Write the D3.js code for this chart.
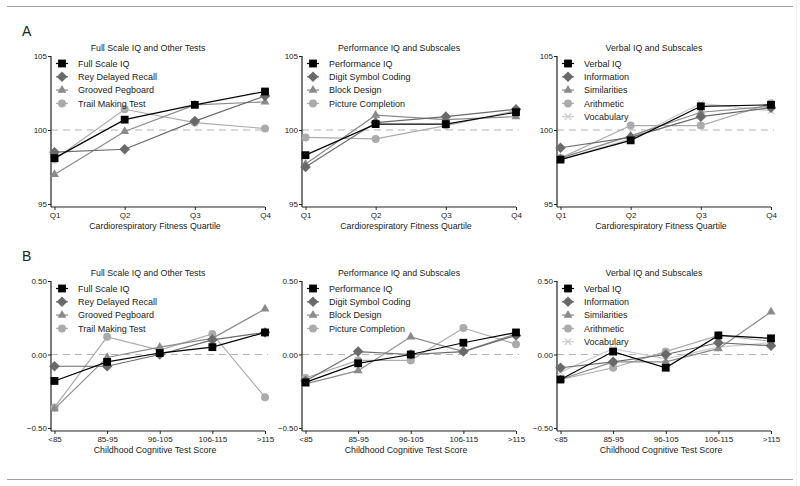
<!DOCTYPE html>
<html>
<head>
<meta charset="utf-8">
<script src="https://cdn.jsdelivr.net/npm/d3@7"></script>
<style>
  body { margin: 0; background: #fff; }
  svg text { font-family: "Liberation Sans", Arial, sans-serif; fill: #222; }
</style>
</head>
<body>
<div id="chart"></div>
<script>
// categories
var quartiles = ["Q1", "Q2", "Q3", "Q4"];
var childScores = ["<85", "85-95", "96-105", "106-115", ">115"];

// panel A values (mean IQ by fitness quartile)
var a1Names = ["Full Scale IQ", "Rey Delayed Recall", "Grooved Pegboard", "Trail Making Test"];
var a1FullScale = [98.1, 100.7, 101.7, 102.6];
var a1Rey = [98.5, 98.7, 100.6, 102.3];
var a1Grooved = [97.0, 99.9, 101.7, 101.9];
var a1Trail = [98.0, 101.4, 100.5, 100.1];

var a2Names = ["Performance IQ", "Digit Symbol Coding", "Block Design", "Picture Completion"];
var a2Perf = [98.3, 100.4, 100.4, 101.2];
var a2Digit = [97.5, 100.5, 100.9, 101.4];
var a2Block = [97.7, 101.0, 100.7, 100.9];
var a2Picture = [99.5, 99.4, 100.3, 101.3];

var a3Names = ["Verbal IQ", "Information", "Similarities", "Arithmetic", "Vocabulary"];
var a3Verbal = [98.0, 99.3, 101.6, 101.7];
var a3Info = [98.8, 99.5, 100.9, 101.5];
var a3Simil = [98.1, 99.6, 101.2, 101.6];
var a3Arith = [98.1, 100.3, 100.3, 101.8];
var a3Vocab = [98.0, 99.4, 101.8, 101.3];

// panel B values (z-scores by childhood test score)
var b1FullScale = [-0.18, -0.05, 0.01, 0.05, 0.15];
var b1Rey = [-0.08, -0.08, 0.00, 0.10, 0.15];
var b1Grooved = [-0.37, -0.02, 0.05, 0.11, 0.31];
var b1Trail = [-0.36, 0.12, 0.03, 0.14, -0.29];

var b2Perf = [-0.19, -0.06, 0.00, 0.08, 0.15];
var b2Digit = [-0.18, 0.02, 0.00, 0.02, 0.13];
var b2Block = [-0.20, -0.11, 0.12, 0.02, 0.14];
var b2Picture = [-0.16, -0.04, -0.04, 0.18, 0.07];

var b3Verbal = [-0.17, 0.02, -0.09, 0.13, 0.11];
var b3Info = [-0.09, -0.05, 0.00, 0.08, 0.06];
var b3Simil = [-0.17, -0.05, -0.05, 0.04, 0.29];
var b3Arith = [-0.17, -0.09, 0.02, 0.13, 0.09];
var b3Vocab = [-0.12, 0.04, -0.03, 0.05, 0.08];

var aTicks = [95, 100, 105];
var bTicks = [-0.5, 0, 0.5];

var styles = [
  { color: "#000000", shape: "square" },
  { color: "#6a6a6a", shape: "diamond" },
  { color: "#8a8a8a", shape: "triangle" },
  { color: "#ababab", shape: "circle" },
  { color: "#cdcdcd", shape: "cross" }
];

var panels = [
  { row: 0, col: 0, title: "Full Scale IQ and Other Tests", names: a1Names,
    series: [a1FullScale, a1Rey, a1Grooved, a1Trail] },
  { row: 0, col: 1, title: "Performance IQ and Subscales", names: a2Names,
    series: [a2Perf, a2Digit, a2Block, a2Picture] },
  { row: 0, col: 2, title: "Verbal IQ and Subscales", names: a3Names,
    series: [a3Verbal, a3Info, a3Simil, a3Arith, a3Vocab] },
  { row: 1, col: 0, title: "Full Scale IQ and Other Tests", names: a1Names,
    series: [b1FullScale, b1Rey, b1Grooved, b1Trail] },
  { row: 1, col: 1, title: "Performance IQ and Subscales", names: a2Names,
    series: [b2Perf, b2Digit, b2Block, b2Picture] },
  { row: 1, col: 2, title: "Verbal IQ and Subscales", names: a3Names,
    series: [b3Verbal, b3Info, b3Simil, b3Arith, b3Vocab] }
];

var rows = [
  { letter: "A", cats: quartiles, ticks: aTicks, ref: 100, fmt: d3.format("d"),
    top: 56, bottom: 204, axisY: 207, xTitle: "Cardiorespiratory Fitness Quartile" },
  { letter: "B", cats: childScores, ticks: bTicks, ref: 0, fmt: d3.format(".2f"),
    top: 281, bottom: 428, axisY: 431, xTitle: "Childhood Cognitive Test Score" }
];
var colX = [51, 302, 557];

var svg = d3.select("#chart").append("svg")
  .attr("width", 800).attr("height", 486);

// outer frame
svg.append("line").attr("x1", 7).attr("x2", 793).attr("y1", 6.5).attr("y2", 6.5)
  .attr("stroke", "#a0a0a0").attr("stroke-width", 1);
svg.append("line").attr("x1", 7).attr("x2", 793).attr("y1", 479.5).attr("y2", 479.5)
  .attr("stroke", "#a0a0a0").attr("stroke-width", 1);
svg.append("line").attr("x1", 796.5).attr("x2", 796.5).attr("y1", 0).attr("y2", 486)
  .attr("stroke", "#f0f0f0").attr("stroke-width", 1);

rows.forEach(function(r, i) {
  svg.append("text").attr("x", 22).attr("y", i == 0 ? 36 : 261)
    .style("font-size", "14px").text(r.letter);
});

function drawMarker(g, shape, color, cx, cy) {
  if (shape == "square") {
    g.append("rect").attr("x", cx - 3.9).attr("y", cy - 3.9)
      .attr("width", 7.8).attr("height", 7.8).attr("fill", color);
  } else if (shape == "diamond") {
    g.append("path").attr("d", d3.symbol(d3.symbolDiamond2, 72)())
      .attr("transform", "translate(" + cx + "," + cy + ")").attr("fill", color);
  } else if (shape == "triangle") {
    g.append("path").attr("d", d3.symbol(d3.symbolTriangle, 34)())
      .attr("transform", "translate(" + cx + "," + cy + ")").attr("fill", color);
  } else if (shape == "circle") {
    g.append("circle").attr("cx", cx).attr("cy", cy).attr("r", 4).attr("fill", color);
  } else {
    g.append("path").attr("d", d3.symbol(d3.symbolX, 30)())
      .attr("transform", "translate(" + cx + "," + cy + ")")
      .attr("stroke", color).attr("stroke-width", 1.2).attr("fill", "none");
  }
}

panels.forEach(function(p) {
  var r = rows[p.row];
  var ax = colX[p.col];
  var g = svg.append("g");

  var x = d3.scalePoint().domain(r.cats).range([ax + 3.5, ax + 214]);
  var y = d3.scaleLinear().domain([r.ticks[0], r.ticks[2]]).range([r.bottom, r.top]);

  // reference dashed line
  g.append("line")
    .attr("x1", ax).attr("x2", ax + 217)
    .attr("y1", y(r.ref)).attr("y2", y(r.ref))
    .attr("stroke", "#b4b4b4").attr("stroke-width", 1.2)
    .attr("stroke-dasharray", "7,5");

  // y axis
  var yAxis = g.append("g").attr("transform", "translate(" + ax + ",0)")
    .call(d3.axisLeft(y).tickValues(r.ticks).tickFormat(r.fmt).tickSize(3).tickSizeOuter(0));
  yAxis.select(".domain").attr("d", "M0," + r.top + "V" + r.axisY);

  // x axis
  var xAxis = g.append("g").attr("transform", "translate(0," + r.axisY + ")")
    .call(d3.axisBottom(x).tickSize(3).tickSizeOuter(0));
  xAxis.select(".domain").attr("d", "M" + ax + ",0H" + x(r.cats[r.cats.length - 1]));

  [yAxis, xAxis].forEach(function(a) {
    a.select(".domain").attr("stroke", "#222").attr("stroke-width", 1.2);
    a.selectAll(".tick line").attr("stroke", "#222");
    a.selectAll(".tick text").style("font-size", "8px")
      .style("font-family", "'Liberation Sans', Arial, sans-serif").attr("fill", "#222");
  });
  yAxis.selectAll(".tick text").attr("x", -4);
  xAxis.selectAll(".tick text").attr("y", 5);

  // titles
  g.append("text").attr("x", ax + 97).attr("y", r.top - 5)
    .attr("text-anchor", "middle").style("font-size", "8.8px").text(p.title);
  g.append("text").attr("x", ax + 104).attr("y", r.axisY + 22)
    .attr("text-anchor", "middle").style("font-size", "8.8px").text(r.xTitle);

  // series, drawn back to front so the IQ line sits on top
  for (var s = p.series.length - 1; s >= 0; s--) {
    var vals = p.series[s];
    var st = styles[s];
    var pts = vals.map(function(v, k) { return [x(r.cats[k]), y(v)]; });
    g.append("path").attr("d", d3.line()(pts))
      .attr("fill", "none").attr("stroke", st.color).attr("stroke-width", 1.2);
    pts.forEach(function(pt) { drawMarker(g, st.shape, st.color, pt[0], pt[1]); });
  }

  // legend
  p.names.forEach(function(name, s) {
    var ly = r.top + 7.5 + s * 13.3;
    var mx = ax + 11;
    var st = styles[s];
    g.append("line").attr("x1", mx - 6).attr("x2", mx + 6).attr("y1", ly).attr("y2", ly)
      .attr("stroke", st.color).attr("stroke-width", 1.2);
    drawMarker(g, st.shape, st.color, mx, ly);
    g.append("text").attr("x", ax + 27).attr("y", ly + 3.3)
      .style("font-size", "9px").text(name);
  });
});
</script>
</body>
</html>
